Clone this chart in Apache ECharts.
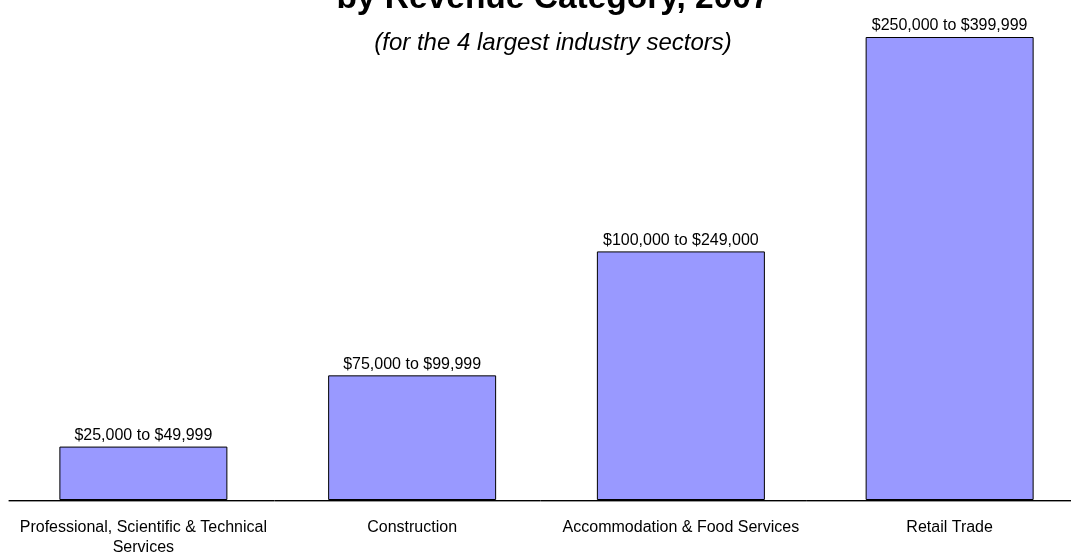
<!DOCTYPE html>
<html>
<head>
<meta charset="utf-8">
<script src="https://cdn.jsdelivr.net/npm/echarts@6/dist/echarts.min.js"></script>
<style>
html,body{margin:0;padding:0;background:#fff;}
#chart{width:1071px;height:552px;}
</style>
</head>
<body>
<div id="chart"></div>
<script>
var titleText = 'by Revenue Category, 2007';
var subtitleText = '(for the 4 largest industry sectors)';
var categories = ['Professional, Scientific & Technical\nServices', 'Construction', 'Accommodation & Food Services', 'Retail Trade'];
var revenueLabels = ['$25,000 to $49,999', '$75,000 to $99,999', '$100,000 to $249,000', '$250,000 to $399,999'];
var values = [37500, 87500, 174500, 325000];

var FONT = '"Liberation Sans", Arial, sans-serif';
var chart = echarts.init(document.getElementById('chart'));
chart.setOption({
  animation: false,
  backgroundColor: '#fff',
  title: [
    {
      text: titleText,
      left: 548, top: -23, textAlign: 'center',
      textStyle: {fontFamily: FONT, fontSize: 33.5, fontWeight: 'bold', color: '#000'}
    },
    {
      text: subtitleText,
      left: 548, top: 26, textAlign: 'center',
      textStyle: {fontFamily: FONT, fontSize: 24, fontStyle: 'italic', fontWeight: 'normal', color: '#000'}
    }
  ],
  grid: {left: 9, top: 1.4, width: 1075, height: 498.6, containLabel: false, outerBoundsMode: 'none'},
  xAxis: {
    type: 'category',
    data: categories,
    axisLine: {show: true, lineStyle: {color: '#000', width: 1, shadowColor: '#999', shadowOffsetY: 1, shadowBlur: 0}},
    axisTick: {show: false},
    splitLine: {show: false},
    axisLabel: {interval: 0, margin: 18, fontFamily: FONT, fontSize: 16, lineHeight: 20, color: '#000'}
  },
  yAxis: {
    type: 'value', min: 0, max: 350000, show: false,
    splitLine: {show: false}
  },
  series: [{
    type: 'bar',
    data: values,
    barWidth: 168,
    itemStyle: {color: '#9999FF', borderColor: '#000', borderWidth: 1},
    label: {
      show: true, position: 'top', distance: 3,
      fontFamily: FONT, fontSize: 16, color: '#000',
      formatter: function (p) { return revenueLabels[p.dataIndex]; }
    }
  }]
});
</script>
</body>
</html>
